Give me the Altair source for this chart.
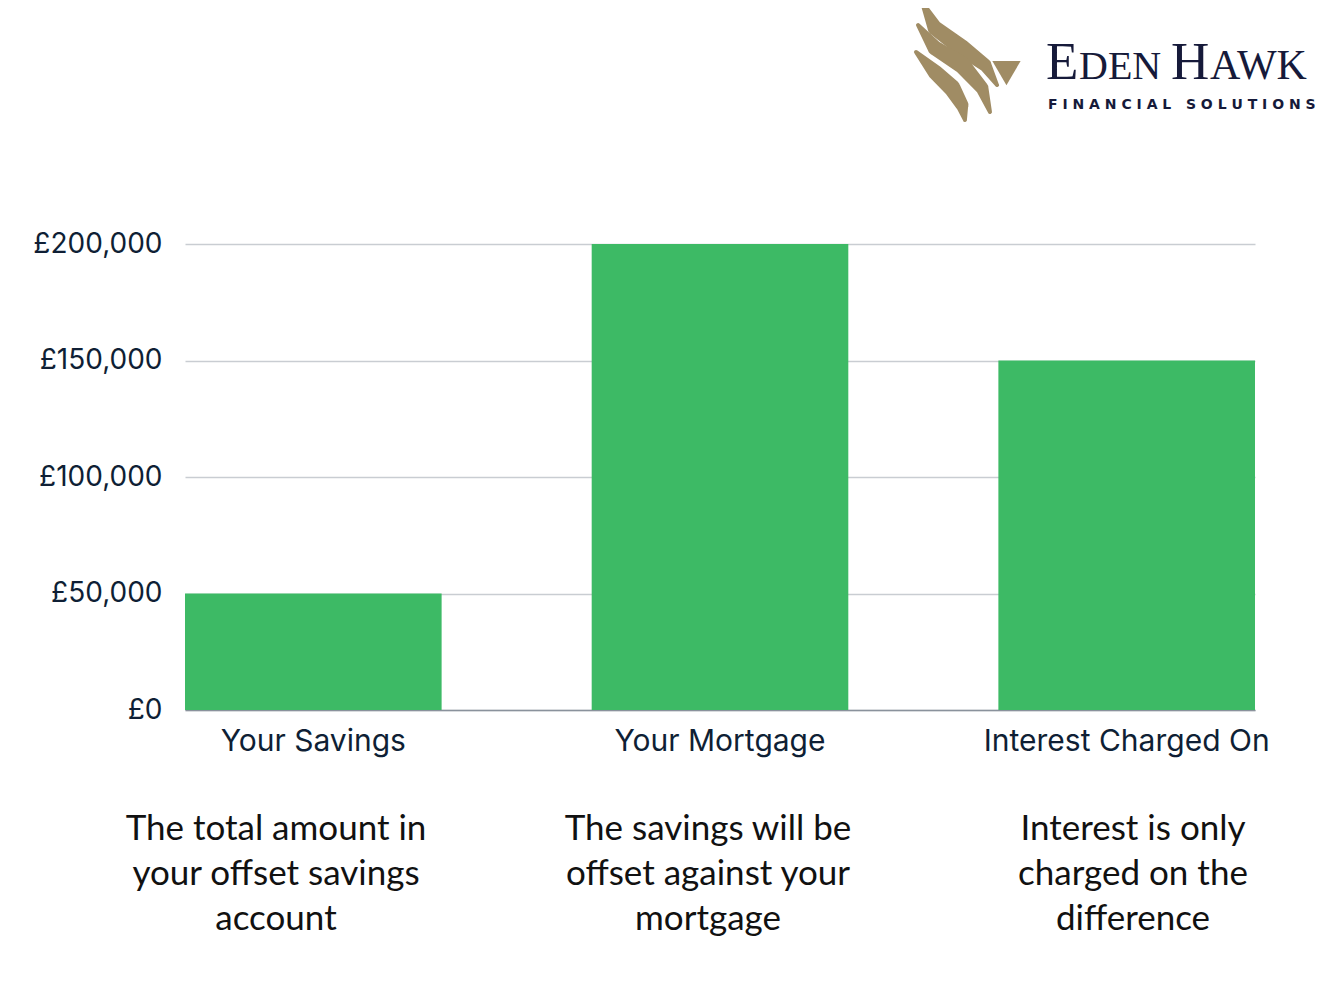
import altair as alt
import pandas as pd

categories = ["Your Savings", "Your Mortgage", "Interest Charged On"]
values = [50000, 200000, 150000]
descriptions = [
    "The total amount in\nyour offset savings\naccount",
    "The savings will be\noffset against your\nmortgage",
    "Interest is only\ncharged on the\ndifference",
]
y_ticks = [0, 50000, 100000, 150000, 200000]

df = pd.DataFrame({"category": categories, "value": values, "desc": descriptions})

W, H = 1070, 466
OX, OY = 185, 244  # plot origin on page
AX_COLOR = "#0f1f35"

x_enc = alt.X(
    "category:N",
    sort=categories,
    scale=alt.Scale(paddingInner=0.369, paddingOuter=0),
    axis=alt.Axis(
        title=None, labelAngle=0, labelFont="Inter", labelFontSize=30,
        labelColor=AX_COLOR, labelPadding=16, ticks=False, domainColor="#8a929c",
        domainWidth=1.5, grid=False, labelLimit=400,
    ),
)
y_enc = alt.Y(
    "value:Q",
    scale=alt.Scale(domain=[0, 200000], nice=False),
    axis=alt.Axis(
        title=None, values=y_ticks, labelFont="Inter", labelFontSize=28,
        labelColor=AX_COLOR, labelPadding=23, ticks=False, domain=False,
        gridColor="#c9cdd2", gridWidth=1.3,
        labelExpr="'£' + format(datum.value, ',')",
    ),
)

bars = alt.Chart(df).mark_bar(color="#3dba65").encode(x=x_enc, y=y_enc)

desc_x = [276, 708, 1133]
desc_layers = []
for i, d in enumerate(descriptions):
    desc_layers.append(
        alt.Chart(pd.DataFrame({"desc": [d]})).mark_text(
            font="Lato", fontSize=35, color="#111111", lineBreak="\n",
            lineHeight=45, align="center", baseline="middle",
        ).encode(text="desc:N", x=alt.value(desc_x[i] - OX), y=alt.value(829 - OY))
    )

one = pd.DataFrame({"t": ["x"]})
def logo_text(txt, x, y, size, weight="normal", font="Liberation Serif", color="#161a3a"):
    return alt.Chart(one).mark_text(
        text=txt, font=font, fontSize=size, fontWeight=weight, color=color,
        align="left", baseline="alphabetic",
    ).encode(x=alt.value(x - OX), y=alt.value(y - OY))

NB = "\u00a0"
tagline = NB.join(list("FINANCIAL")) + NB * 3 + NB.join(list("SOLUTIONS"))

logo = [
    logo_text("E", 1046, 79, 53),
    logo_text("DEN", 1079, 79, 40),
    logo_text("H", 1171, 79, 53),
    logo_text("AWK", 1210, 79, 42),
    logo_text(tagline, 1048, 109, 14, weight="bold", font="DejaVu Sans"),
]

# bird emblem of the logo (decorative gold swooshes, page pixels)
GOLD = "#a08c64"
stripe_x = [
    [922, 935, 962, 985, 997],
    [918, 935, 962, 982, 990],
    [916, 935, 952, 962, 965],
]
stripe_y = [
    [2, 28, 48, 65, 85],
    [25, 48, 65, 88, 112],
    [52, 72, 88, 105, 120],
]
stripe_w = [4, 15, 17, 13, 4]
rows = []
for s in range(3):
    for k in range(5):
        rows.append({"s": s, "k": k, "px": stripe_x[s][k] - OX,
                     "py": stripe_y[s][k] - OY, "w": stripe_w[k]})
bird = alt.Chart(pd.DataFrame(rows)).mark_trail(color=GOLD).encode(
    x=alt.X("px:Q", scale=None, axis=None),
    y=alt.Y("py:Q", scale=None, axis=None),
    size=alt.Size("w:Q", scale=None, legend=None),
    detail="s:N",
    order="k:Q",
)
head = alt.Chart(one).mark_point(
    shape="triangle-right", filled=True, color=GOLD, size=800, opacity=1, angle=330,
).encode(x=alt.value(1010 - OX), y=alt.value(67 - OY))

chart = alt.layer(bars, *desc_layers, *logo, bird, head).resolve_scale(
    x="independent", y="independent", size="independent"
).properties(
    width=W, height=H,
    background="white",
    autosize=alt.AutoSizeParams(type="none"),
    padding={"left": OX - 8, "top": OY - 8, "right": 61, "bottom": 270},
).configure_view(strokeWidth=0, stroke=None)

chart.save("out.html", embed_options={"renderer": "svg", "actions": False})
